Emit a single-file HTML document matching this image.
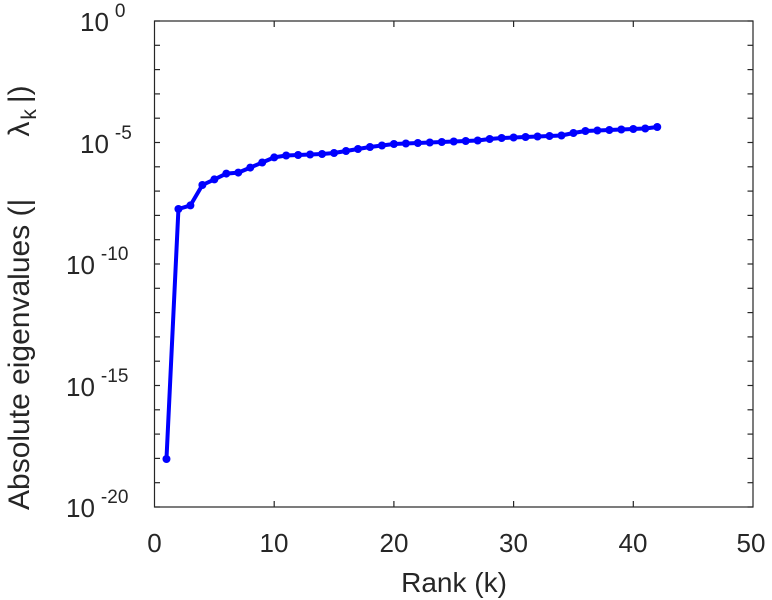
<!DOCTYPE html>
<html><head><meta charset="utf-8"><style>
body{margin:0;background:#fff}
svg{display:block;font-family:"Liberation Sans",sans-serif;fill:#262626}
</style></head><body>
<svg width="772" height="600" viewBox="0 0 772 600" xmlns="http://www.w3.org/2000/svg">
<rect x="154.5" y="21" width="598.5" height="486" fill="none" stroke="#262626" stroke-width="1.2"/>
<g stroke="#262626" stroke-width="1.2" id="ticks"></g>
<g font-size="26">
<text x="80" y="31">10<tspan font-size="19" dy="-14" dx="6">0</tspan></text>
<text x="80" y="153">10<tspan font-size="19" dy="-14" dx="6">-5</tspan></text>
<text x="66" y="274">10<tspan font-size="19" dy="-14" dx="6">-10</tspan></text>
<text x="66" y="396">10<tspan font-size="19" dy="-14" dx="6">-15</tspan></text>
<text x="66" y="517">10<tspan font-size="19" dy="-14" dx="6">-20</tspan></text>
</g>
<g font-size="26" text-anchor="middle">
<text x="154.5" y="552">0</text><text x="274" y="552">10</text><text x="394" y="552">20</text><text x="513.5" y="552">30</text><text x="633" y="552">40</text><text x="751" y="552">50</text>
<text x="454" y="592" font-size="28">Rank (k)</text>
</g>
<text font-size="30" transform="translate(29,510) rotate(-90)">Absolute eigenvalues (|<tspan dx="62">&#955;</tspan><tspan font-size="21" dy="7" dx="2">k</tspan><tspan dy="-7" dx="6">|)</tspan></text>
<polyline id="ln" fill="none" stroke="#0000ff" stroke-width="4" stroke-linejoin="round"/>
<g id="mk" fill="#0000ff"></g>
<script>
var ns="http://www.w3.org/2000/svg";
var t=document.getElementById("ticks");
function L(x1,y1,x2,y2){var l=document.createElementNS(ns,"line");l.setAttribute("x1",x1);l.setAttribute("y1",y1);l.setAttribute("x2",x2);l.setAttribute("y2",y2);t.appendChild(l);}
for(var d=0;d<=20;d++){var y=21+d*24.3;L(154.5,y,160,y);L(753,y,747.5,y);}
for(var k=1;k<5;k++){var x=154.5+k*119.7;L(x,507,x,501);L(x,21,x,27);}
var ys={1:459,2:209,3:205.4,4:185,5:179.4,6:173.6,7:172.6,8:167.6,9:162.5,10:157.4,11:155.5,12:155,13:154.5,14:154,15:153,16:151,17:149,18:147,19:145.5,20:144,21:143.5,22:143,23:142.5,24:142,25:141.5,26:141,27:140.5,28:139,29:138,30:137.5,31:137,32:136.5,33:136,34:135.5,35:133,36:131,37:130.5,38:130,39:129.5,40:129,41:128.5,42:127};
var pts=[],mk=document.getElementById("mk");
for(var k=1;k<=42;k++){var x=154.5+11.97*k,y=ys[k];pts.push(x+","+y);var c=document.createElementNS(ns,"circle");c.setAttribute("cx",x);c.setAttribute("cy",y);c.setAttribute("r",4);mk.appendChild(c);}
document.getElementById("ln").setAttribute("points",pts.join(" "));
</script>
</svg>
</body></html>
